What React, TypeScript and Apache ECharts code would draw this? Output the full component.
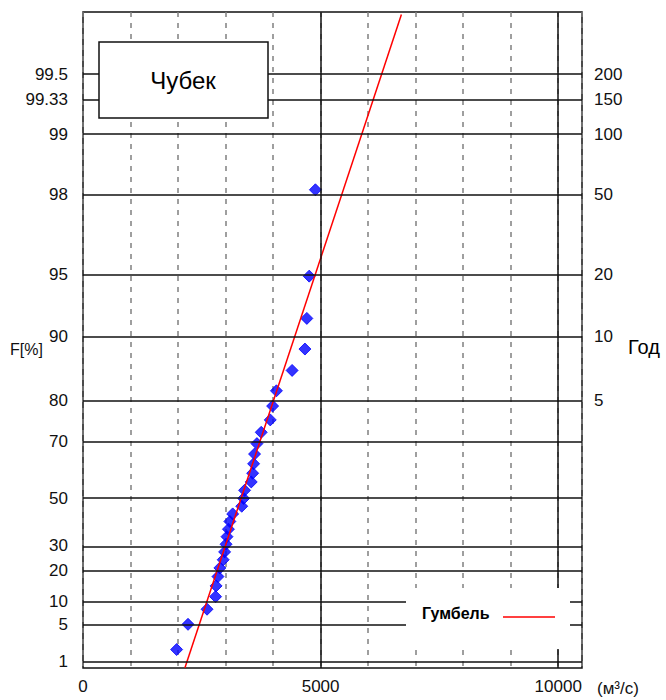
import React, { useEffect, useRef } from "react";
import * as echarts from "echarts";

// Non-exceedance probability ticks (left axis, %)
const probTicks = [1, 5, 10, 20, 30, 50, 70, 80, 90, 95, 98, 99, 99.33, 99.5];
const probTickLabels = ["1", "5", "10", "20", "30", "50", "70", "80", "90", "95", "98", "99", "99.33", "99.5"];
// Return periods (right axis, years)
const returnPeriods = [5, 10, 20, 50, 100, 150, 200];
// Discharge ticks (bottom axis)
const xTickValues = [0, 5000, 10000];
const xSolidLines = [5000, 10000];

// Observed annual maxima: discharge (m3/s) and plotting position F (%)
const observedQ = [1970, 2210, 2610, 2790, 2800, 2840, 2880, 2950, 2980, 3010, 3030, 3060, 3090, 3150, 3340, 3380, 3400, 3540, 3570, 3590, 3610, 3660, 3750, 3940, 3990, 4070, 4400, 4670, 4710, 4760, 4890];
const observedF = [1.8, 5.0, 8.1, 11.4, 14.7, 17.9, 21.1, 24.3, 27.5, 30.7, 33.9, 37.1, 40.4, 43.6, 46.8, 50.0, 53.2, 56.4, 59.6, 62.9, 66.1, 69.3, 72.5, 75.7, 78.9, 82.0, 85.5, 88.5, 91.8, 94.9, 98.1];

// Gumbel fitted line endpoints: discharge and F (%)
const fitQ = [2145, 6700];
const fitF = [0.7, 99.75];

const FONT = '"Liberation Sans", Arial, sans-serif';

// Gumbel reduced variate scale
const gz = (pct: number) => -Math.log(-Math.log(pct / 100));

export default function App() {
  const ref = useRef<HTMLDivElement>(null);

  useEffect(() => {
    if (!ref.current) return;
    const chart = echarts.init(ref.current, undefined, { renderer: "svg" });
    const probZ = probTicks.map(gz);
    const rpZ = returnPeriods.map((t) => gz(100 * (1 - 1 / t)));
    const nearestLabel = (v: number, zs: number[], labels: string[]) => {
      let best = 0;
      for (let i = 1; i < zs.length; i++) if (Math.abs(zs[i] - v) < Math.abs(zs[best] - v)) best = i;
      return Math.abs(zs[best] - v) < 1e-3 ? labels[best] : "";
    };

    chart.setOption({
      animation: false,
      backgroundColor: "#ffffff",
      grid: {
        left: 83,
        top: 12,
        width: 499,
        height: 656,
        show: true,
        borderColor: "#111",
        borderWidth: 1.5,
        backgroundColor: "transparent",
      },
      xAxis: {
        type: "value",
        min: 0,
        max: 10500,
        interval: 1000,
        axisLine: { show: false },
        axisTick: { show: false },
        axisLabel: {
          customValues: xTickValues,
          formatter: (v: number) => String(v),
          color: "#111",
          fontFamily: FONT,
          fontSize: 17,
          margin: 10,
        },
        splitLine: {
          show: true,
          lineStyle: { color: "#808080", width: 1.5, type: [5, 6] },
        },
      },
      yAxis: [
        {
          type: "value",
          min: -1.605,
          max: 6.02,
          axisLine: { show: false },
          axisTick: { show: false },
          splitLine: { show: false },
          axisLabel: {
            customValues: probZ,
            formatter: (v: number) => nearestLabel(v, probZ, probTickLabels),
            color: "#111",
            fontFamily: FONT,
            fontSize: 17,
            margin: 15,
          },
        },
        {
          type: "value",
          position: "right",
          min: -1.605,
          max: 6.02,
          axisLine: { show: false },
          axisTick: { show: false },
          splitLine: { show: false },
          axisLabel: {
            customValues: rpZ,
            formatter: (v: number) => nearestLabel(v, rpZ, returnPeriods.map(String)),
            color: "#111",
            fontFamily: FONT,
            fontSize: 17,
            margin: 12,
          },
        },
      ],
      series: [
        {
          type: "line",
          data: [],
          z: 1,
          markLine: {
            silent: true,
            symbol: ["none", "none"],
            label: { show: false },
            lineStyle: { color: "#111", width: 1.5, type: "solid" },
            data: [
              ...xSolidLines.map((x) => ({ xAxis: x })),
              ...probZ.map((y) => ({ yAxis: y })),
            ],
          },
        },
        {
          type: "scatter",
          name: "obs",
          z: 3,
          symbol: "diamond",
          symbolSize: 12,
          itemStyle: { color: "#0000ff", borderColor: "#0000ff", borderWidth: 1, borderJoin: "round" },
          data: observedQ.map((q, i) => [q, gz(observedF[i])]),
        },
        {
          type: "line",
          name: "Гумбель",
          z: 4,
          showSymbol: false,
          clip: true,
          lineStyle: { color: "#ff0000", width: 1.5 },
          data: fitQ.map((q, i) => [q, gz(fitF[i])]),
        },
      ],
      graphic: [
        {
          type: "rect",
          z: 100,
          shape: { x: 99, y: 42, width: 169, height: 76 },
          style: { fill: "#fff", stroke: "#111", lineWidth: 1.5 },
        },
        {
          type: "text",
          z: 101,
          x: 183,
          y: 80,
          style: {
            text: "Чубек",
            font: `24px ${FONT}`,
            fill: "#000",
            align: "center",
            verticalAlign: "middle",
            textAlign: "center",
            textVerticalAlign: "middle",
          },
        },
        {
          type: "rect",
          z: 100,
          shape: { x: 406, y: 588, width: 164, height: 61 },
          style: { fill: "#fff", lineWidth: 0 },
        },
        {
          type: "text",
          z: 101,
          x: 422,
          y: 613,
          style: {
            text: "Гумбель",
            font: `bold 16px ${FONT}`,
            fill: "#000",
            align: "left",
            verticalAlign: "middle",
            textAlign: "left",
            textVerticalAlign: "middle",
          },
        },
        {
          type: "line",
          z: 101,
          shape: { x1: 503, y1: 617, x2: 555, y2: 617 },
          style: { stroke: "#ff0000", lineWidth: 1.5 },
        },
        {
          type: "text",
          z: 101,
          x: 10,
          y: 349,
          style: {
            text: "F[%]",
            font: `16px ${FONT}`,
            fill: "#111",
            align: "left",
            verticalAlign: "middle",
            textAlign: "left",
            textVerticalAlign: "middle",
          },
        },
        {
          type: "text",
          z: 101,
          x: 628,
          y: 347,
          style: {
            text: "Год",
            font: `20px ${FONT}`,
            fill: "#000",
            align: "left",
            verticalAlign: "middle",
            textAlign: "left",
            textVerticalAlign: "middle",
          },
        },
        {
          type: "text",
          z: 101,
          x: 597,
          y: 688,
          style: {
            text: "(м³/с)",
            font: `17px ${FONT}`,
            fill: "#111",
            align: "left",
            verticalAlign: "middle",
            textAlign: "left",
            textVerticalAlign: "middle",
          },
        },
      ],
    });

    return () => chart.dispose();
  }, []);

  return (
    <div
      ref={ref}
      style={{ position: "absolute", left: 0, top: 0, width: 666, height: 700 }}
    />
  );
}
